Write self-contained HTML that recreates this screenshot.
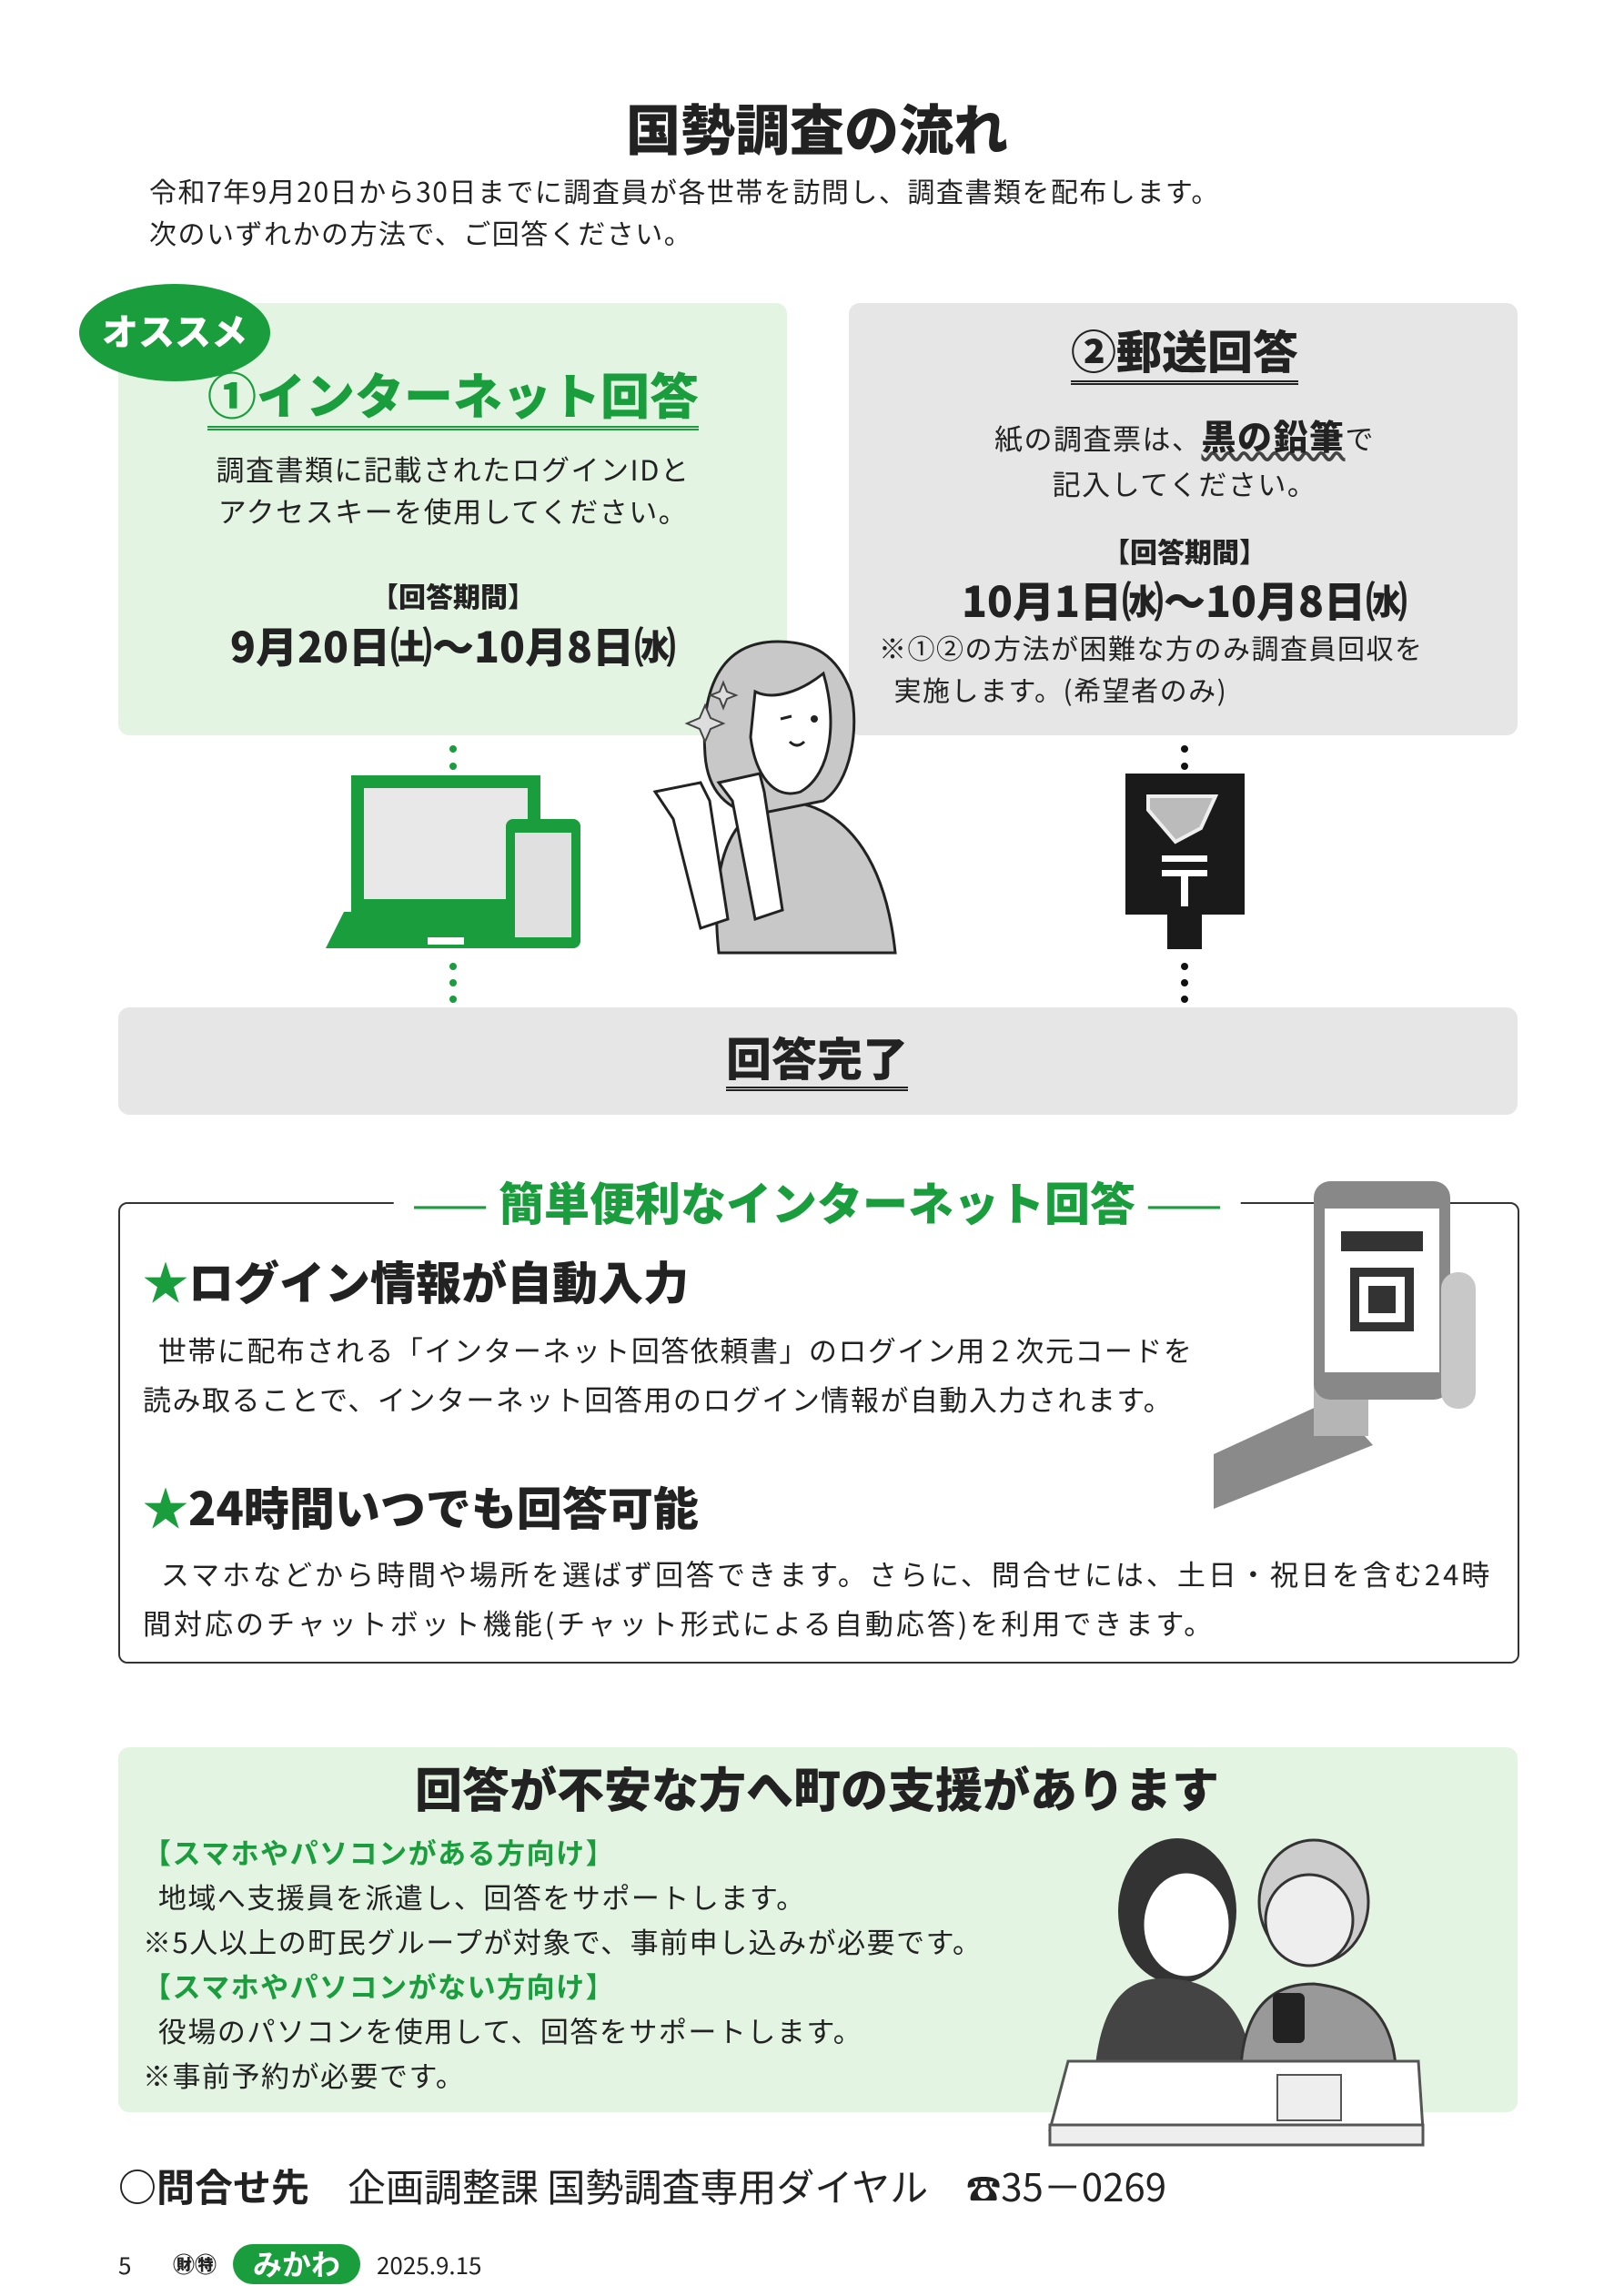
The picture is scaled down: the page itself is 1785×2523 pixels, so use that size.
<!DOCTYPE html>
<html><head><meta charset="utf-8"><style>
body{margin:0;width:1785px;height:2523px;background:#fff;position:relative;overflow:hidden;font-family:"Noto Sans CJK JP","Liberation Sans",sans-serif;color:#222}
.a{position:absolute;white-space:nowrap}
.c{transform:translateX(-50%)}
.b{font-weight:900}
.t{letter-spacing:1.5px}
</style></head><body>
<div class="a c b" style="left:898px;top:100px;font-size:60px;line-height:80px">国勢調査の流れ</div>
<div class="a t" style="left:164px;top:186px;font-size:30px;line-height:46px">令和7年9月20日から30日までに調査員が各世帯を訪問し、調査書類を配布します。<br>次のいずれかの方法で、ご回答ください。</div>

<div class="a" style="left:130px;top:333px;width:735px;height:475px;background:#e3f4e2;border-radius:12px"></div>
<div class="a" style="left:933px;top:333px;width:735px;height:475px;background:#e6e6e6;border-radius:12px"></div>
<div class="a" style="left:87px;top:312px;width:210px;height:107px;background:#1a9d3c;border-radius:50%;color:#fff;font-size:40px;font-weight:900;text-align:center;line-height:100px">オススメ</div>

<div class="a c b" style="left:498px;top:396px;font-size:54px;color:#1a9d3c;border-bottom:5px double #1a9d3c;line-height:72px">①インターネット回答</div>
<div class="a c t" style="left:498px;top:492px;font-size:31px;line-height:46px;text-align:center">調査書類に記載されたログインIDと<br>アクセスキーを使用してください。</div>
<div class="a c b" style="left:498px;top:632px;font-size:30px">【回答期間】</div>
<div class="a c b" style="left:498px;top:676px;font-size:46px">9月20日㈯～10月8日㈬</div>

<div class="a c b" style="left:1302px;top:350px;font-size:50px;border-bottom:5px double #222;line-height:68px">②郵送回答</div>
<div class="a c t" style="left:1302px;top:450px;font-size:31px">紙の調査票は、<b style="font-weight:900;font-size:38px;text-decoration:underline wavy #444">黒の鉛筆</b>で</div>
<div class="a c t" style="left:1302px;top:508px;font-size:31px">記入してください。</div>
<div class="a c b" style="left:1302px;top:583px;font-size:30px">【回答期間】</div>
<div class="a c b" style="left:1302px;top:626px;font-size:46px">10月1日㈬～10月8日㈬</div>
<div class="a t" style="left:966px;top:688px;font-size:30px;line-height:46px">※①②の方法が困難な方のみ調査員回収を<br>&nbsp;&nbsp;実施します。(希望者のみ)</div>

<svg class="a" style="left:0;top:0" width="1785" height="1250">
<g fill="#1a9d3c"><circle cx="498" cy="823" r="4"/><circle cx="498" cy="842" r="4"/><circle cx="498" cy="1062" r="4"/><circle cx="498" cy="1080" r="4"/><circle cx="498" cy="1098" r="4"/><circle cx="498" cy="1116" r="4"/><circle cx="498" cy="1134" r="4"/><polygon points="486,1138 510,1138 498,1172"/></g>
<g fill="#111"><circle cx="1302" cy="823" r="4"/><circle cx="1302" cy="842" r="4"/><circle cx="1302" cy="1062" r="4"/><circle cx="1302" cy="1080" r="4"/><circle cx="1302" cy="1098" r="4"/><circle cx="1302" cy="1116" r="4"/><circle cx="1302" cy="1134" r="4"/><polygon points="1290,1138 1314,1138 1302,1172"/></g>
<rect x="386" y="852" width="208" height="150" fill="#1a9d3c"/><rect x="400" y="866" width="180" height="122" fill="#e8e8e8"/>
<polygon points="378,1002 600,1002 620,1042 358,1042" fill="#1a9d3c"/><rect x="470" y="1030" width="40" height="8" fill="#fff"/>
<rect x="556" y="900" width="82" height="142" rx="8" fill="#1a9d3c"/><rect x="566" y="915" width="62" height="115" fill="#e0e0e0"/>
<rect x="1237" y="850" width="131" height="155" fill="#1a1a1a"/><rect x="1283" y="1005" width="38" height="38" fill="#1a1a1a"/>
<polygon points="1262,875 1336,875 1320,910 1292,925 1262,890" fill="#bbb" stroke="#eee" stroke-width="4"/>
<rect x="1277" y="940" width="50" height="7" fill="#fff"/><rect x="1277" y="956" width="50" height="7" fill="#fff"/><rect x="1298" y="956" width="8" height="40" fill="#fff"/>
<!-- woman -->
<path d="M790 1047 C780 950 800 890 860 880 C940 885 975 960 984 1047Z" fill="#c8c8c8" stroke="#222" stroke-width="3"/>
<path d="M855 705 C790 705 770 760 775 830 C778 870 800 890 830 895 L905 880 C935 860 945 800 935 760 C920 720 895 705 855 705Z" fill="#c8c8c8" stroke="#222" stroke-width="3"/>
<path d="M830 760 C850 770 880 760 905 740 C920 790 915 850 880 870 C850 880 830 850 825 810Z" fill="#fff" stroke="#222" stroke-width="3"/>
<circle cx="895" cy="790" r="4" fill="#222"/><path d="M858 790 l12 -3 M868 815 q8 8 16 0" stroke="#222" stroke-width="3" fill="none"/>
<path d="M720 870 L770 860 L780 880 L800 1010 L770 1020 L740 900Z" fill="#fff" stroke="#222" stroke-width="3"/>
<path d="M790 860 L835 850 L840 870 L860 1000 L830 1010 L805 880Z" fill="#fff" stroke="#222" stroke-width="3"/>
<path d="M775 775 l6 14 l14 6 l-14 6 l-6 14 l-6 -14 l-14 -6 l14 -6z M795 750 l4 10 l10 4 l-10 4 l-4 10 l-4 -10 l-10 -4 l10 -4z" fill="#ddd" stroke="#444" stroke-width="2"/>
</svg>

<div class="a" style="left:130px;top:1107px;width:1538px;height:118px;background:#e6e6e6;border-radius:12px"></div>
<div class="a c b" style="left:898px;top:1128px;font-size:50px;border-bottom:5px double #222;line-height:66px">回答完了</div>

<div class="a" style="left:130px;top:1321px;width:1536px;height:503px;border:2px solid #333;border-radius:10px"></div>
<div class="a c b" style="left:898px;top:1284px;font-size:50px;color:#1a9d3c;background:#fff;padding:0 20px"><span style="font-weight:400">——</span> 簡単便利なインターネット回答 <span style="font-weight:400">——</span></div>
<svg class="a" style="left:1334px;top:1298px" width="290" height="360">
<polygon points="0,300 130,240 175,290 0,360" fill="#8a8a8a"/><rect x="110" y="120" width="60" height="160" fill="#b5b5b5"/>
<rect x="110" y="0" width="150" height="240" rx="18" fill="#888"/><rect x="122" y="30" width="126" height="180" fill="#fff"/>
<rect x="140" y="55" width="90" height="22" fill="#333"/><rect x="150" y="95" width="70" height="70" fill="#333"/><rect x="160" y="105" width="50" height="50" fill="#fff"/><rect x="170" y="115" width="30" height="30" fill="#333"/>
<rect x="250" y="100" width="38" height="150" rx="18" fill="#c8c8c8"/>
</svg>
<div class="a b" style="left:157px;top:1372px;font-size:50px;line-height:70px"><span style="color:#1a9d3c">★</span>ログイン情報が自動入力</div>
<div class="a t" style="left:157px;top:1456px;font-size:31px;line-height:54px">&nbsp;&nbsp;世帯に配布される「インターネット回答依頼書」のログイン用２次元コードを<br>読み取ることで、インターネット回答用のログイン情報が自動入力されます。</div>
<div class="a b" style="left:157px;top:1620px;font-size:50px;line-height:70px"><span style="color:#1a9d3c">★</span>24時間いつでも回答可能</div>
<div class="a t" style="left:157px;top:1702px;font-size:31px;line-height:54px;letter-spacing:3px">&nbsp;&nbsp;スマホなどから時間や場所を選ばず回答できます。さらに、問合せには、土日・祝日を含む24時<br>間対応のチャットボット機能(チャット形式による自動応答)を利用できます。</div>

<div class="a" style="left:130px;top:1920px;width:1538px;height:401px;background:#e3f4e2;border-radius:12px"></div>
<div class="a c b" style="left:898px;top:1928px;font-size:52px;line-height:72px">回答が不安な方へ町の支援があります</div>
<div class="a t" style="left:157px;top:2010px;font-size:31px;line-height:49px"><b style="color:#1a9d3c">【スマホやパソコンがある方向け】</b><br>&nbsp;&nbsp;地域へ支援員を派遣し、回答をサポートします。<br>※5人以上の町民グループが対象で、事前申し込みが必要です。<br><b style="color:#1a9d3c">【スマホやパソコンがない方向け】</b><br>&nbsp;&nbsp;役場のパソコンを使用して、回答をサポートします。<br>※事前予約が必要です。</div>
<svg class="a" style="left:1144px;top:2000px" width="445" height="365">
<ellipse cx="150" cy="100" rx="65" ry="80" fill="#333"/><ellipse cx="160" cy="115" rx="48" ry="58" fill="#fff" stroke="#333" stroke-width="3"/>
<path d="M60 270 C70 180 110 170 150 175 C200 180 230 220 230 270Z" fill="#444"/>
<ellipse cx="300" cy="90" rx="60" ry="68" fill="#ccc" stroke="#333" stroke-width="3"/><ellipse cx="295" cy="110" rx="48" ry="50" fill="#eee" stroke="#333" stroke-width="3"/>
<path d="M220 270 C225 200 260 180 300 180 C350 185 385 210 390 270Z" fill="#999" stroke="#333" stroke-width="3"/>
<rect x="255" y="190" width="35" height="55" rx="6" fill="#222"/>
<polygon points="30,265 415,265 420,340 10,340" fill="#fff" stroke="#555" stroke-width="3"/>
<rect x="10" y="335" width="410" height="22" fill="#eee" stroke="#555" stroke-width="3"/>
<rect x="260" y="280" width="70" height="50" fill="#eee" stroke="#555" stroke-width="2"/>
</svg>
<div class="a" style="left:130px;top:2372px;font-size:42px;line-height:60px"><b style="font-weight:700">○問合せ先</b>　企画調整課 国勢調査専用ダイヤル　<span style="font-size:38px">☎</span>35－0269</div>
<div class="a" style="left:130px;top:2470px;font-size:26px">5</div>
<div class="a" style="left:190px;top:2469px;font-size:24px;font-weight:900">㊖㊕</div>
<div class="a" style="left:256px;top:2466px;width:140px;height:44px;background:#1a9d3c;border-radius:22px;color:#fff;font-size:32px;font-weight:700;text-align:center;line-height:42px">みかわ</div>
<div class="a" style="left:414px;top:2470px;font-size:26px">2025.9.15</div>
</body></html>
